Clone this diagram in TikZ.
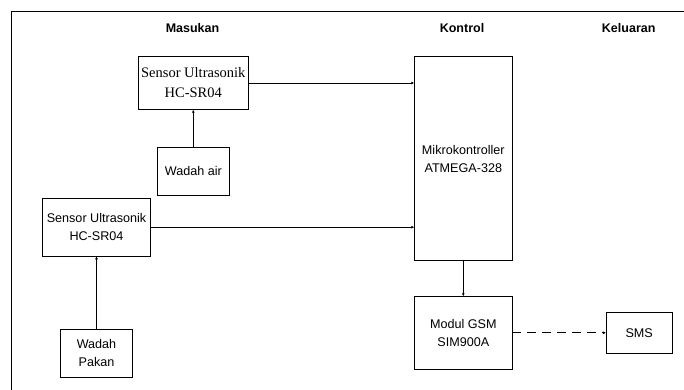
\documentclass[tikz,border=0pt]{standalone}
\usepackage{fontspec}
\setmainfont{Liberation Sans}
\newfontfamily\timesfont{Liberation Serif}
\usepackage{tikz}
\usetikzlibrary{arrows.meta}
\usetikzlibrary{positioning}

\begin{document}
\begin{tikzpicture}[x=1pt, y=-1pt, line width=0.8pt,
    every node/.style={draw, rectangle, inner sep=0pt, align=center, font=\fontsize{12.6}{18}\selectfont},
    head/.style={draw=none, font=\fontsize{12.5}{15}\selectfont\bfseries},
    arr/.style={-{Latex[length=3pt, width=3pt]}}]

      \useasboundingbox (0,0) rectangle (684,390);

      % outer frame (only top and left edges are visible)
      \draw[line width=0.9pt] (11.5,390) -- (11.5,11) -- (684,11);

      \node[head] (masukan) at (192.5, 28) {Masukan};
      \node[head] (kontrol) at (462, 28) {Kontrol};
      \node[head] (keluaran) at (628.7, 28) {Keluaran};

      \node[minimum width=110pt, minimum height=52.6pt, font=\timesfont\fontsize{14.5}{20}\selectfont] (sensor1) at (193.3, 83) {Sensor Ultrasonik\\HC-SR04};
      \node[minimum width=72pt, minimum height=47.3pt] (air) at (193.3, 171.3) {Wadah air};

      \node[minimum width=108.4pt, minimum height=57.7pt] (sensor2) at (96.5, 227.2) {Sensor Ultrasonik\\HC-SR04};
      \node[minimum width=71.6pt, minimum height=48pt] (pakan) at (96.5, 353.3) {Wadah\\Pakan};

      \node[minimum width=97.3pt, minimum height=204pt] (mikro) at (463.3, 158.7) {Mikrokontroller\\ATMEGA-328};
      \node[minimum width=97.3pt, minimum height=72.3pt] (gsm) at (463.3, 332.8) {Modul GSM\\SIM900A};
      \node[minimum width=65.7pt, minimum height=41pt] (sms) at (639.2, 332.8) {SMS};

      \draw[arr] (air) -- (sensor1);
      \draw[arr] (pakan) -- (sensor2);
      \draw[arr] (sensor1.east) -- (sensor1.east -| mikro.west);
      \draw[arr] (sensor2.east) -- (sensor2.east -| mikro.west);
      \draw[arr] (mikro) -- (gsm);
      \draw[arr, dash pattern=on 9pt off 6pt] (gsm) -- (sms);

    \end{tikzpicture}
\end{document}
